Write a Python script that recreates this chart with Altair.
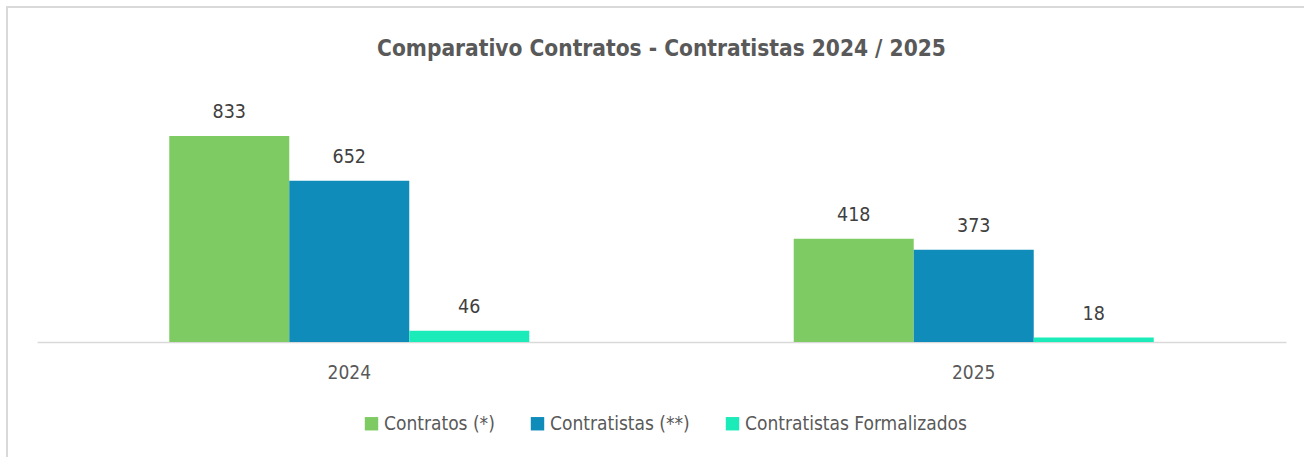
import altair as alt
import pandas as pd

years = ["2024", "2025"]
series = ["Contratos (*)", "Contratistas (**)", "Contratistas Formalizados"]
contratos = [833, 418]
contratistas = [652, 373]
formalizados = [46, 18]
colors = ["#7ECB64", "#0F8CBA", "#1BEBB8"]

rows = []
for i, y in enumerate(years):
    for s, vals in zip(series, [contratos, contratistas, formalizados]):
        rows.append({"year": y, "serie": s, "value": vals[i]})
df = pd.DataFrame(rows)

FONT = "DejaVu Sans Condensed, Liberation Sans Narrow, Arial Narrow, Liberation Sans, sans-serif"

x = alt.X("year:N", title=None, sort=years,
          scale=alt.Scale(paddingInner=0.4235, paddingOuter=0.2118),
          axis=alt.Axis(labelAngle=0, ticks=False, domainColor="#d9d9d9", domainWidth=1.5,
                        labelFontSize=19, labelColor="#595959", labelFont=FONT, labelPadding=21))
xo = alt.XOffset("serie:N", sort=series, scale=alt.Scale(paddingInner=0, paddingOuter=0))
y = alt.Y("value:Q", title=None, scale=alt.Scale(domain=[0, 1100]), axis=None)

bars = alt.Chart(df).mark_bar(size=120).encode(
    x=x, xOffset=xo, y=y,
    color=alt.Color("serie:N", sort=series,
                    scale=alt.Scale(domain=series, range=colors),
                    legend=alt.Legend(title=None, orient="none", legendX=325, legendY=344,
                                      direction="horizontal", symbolType="square", symbolSize=180,
                                      symbolStrokeWidth=0, labelFontSize=19, labelColor="#595959",
                                      labelFont=FONT, columnPadding=33, labelOffset=3,
                                      labelLimit=400)),
)

labels = alt.Chart(df).mark_text(dy=-18, baseline="alphabetic", fontSize=19.5, color="#404040",
                                 font=FONT).encode(
    x=x, xOffset=xo, y=y, text=alt.Text("value:Q"))

border = alt.Chart(df).mark_rect(fill=None, stroke="#d9d9d9", strokeWidth=2).encode(
    x=alt.value(-30), x2=alt.value(1300), y=alt.value(-63), y2=alt.value(420))

chart = alt.layer(border, bars, labels).properties(
    width=1249, height=272,
    title=alt.Title("Comparativo Contratos - Contratistas 2024 / 2025", fontSize=22.5,
                    font=FONT, fontWeight="bold", color="#595959", offset=-54, anchor="middle"),
    padding={"left": 37, "top": 70, "right": 18, "bottom": 115},
    autosize=alt.AutoSizeParams(type="none"),
).configure(background="white").configure_view(stroke=None)

chart.save("out.html", embed_options={"renderer": "svg", "actions": False})
